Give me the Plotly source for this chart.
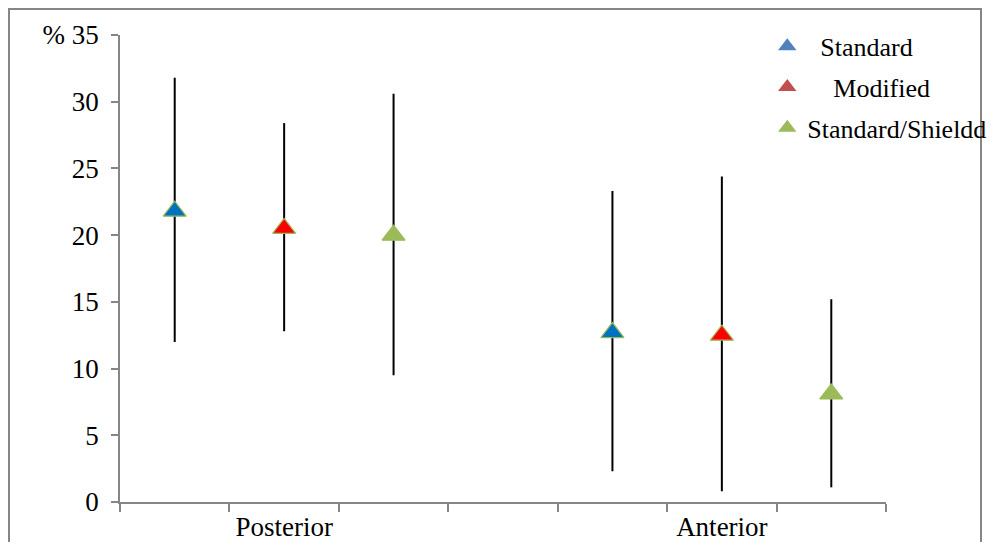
import plotly.graph_objects as go

groups = ["Posterior", "Anterior"]
series = ["Standard", "Modified", "Standard/Shieldd"]
legend_names = ["  Standard", "    Modified", "Standard/Shieldd"]
means = {
    "Standard": [21.8, 12.7],
    "Modified": [20.5, 12.5],
    "Standard/Shieldd": [20.0, 8.1],
}
upper = {
    "Standard": [31.8, 23.3],
    "Modified": [28.4, 24.4],
    "Standard/Shieldd": [30.6, 15.2],
}
lower = {
    "Standard": [12.0, 2.3],
    "Modified": [12.8, 0.8],
    "Standard/Shieldd": [9.5, 1.1],
}
yticks = [0, 5, 10, 15, 20, 25, 30, 35]
yticktext = ["0", "5", "10", "15", "20", "25", "30", "% 35"]

marker_colors = ["#0070C0", "#FF0000", "#9BBB59"]
legend_colors = ["#4F81BD", "#C0504D", "#9BBB59"]

fig = go.Figure()
for si, s in enumerate(series):
    xs = [gi * 4 + si + 1 for gi in range(len(groups))]
    ys = means[s]
    fig.add_trace(go.Scatter(
        x=xs, y=ys, mode="markers", showlegend=False,
        marker=dict(symbol="triangle-up", size=20, color=marker_colors[si],
                    line=dict(color="#9BBB59", width=1.2)),
        error_y=dict(type="data", symmetric=False,
                     array=[u - m for u, m in zip(upper[s], ys)],
                     arrayminus=[m - l for m, l in zip(ys, lower[s])],
                     color="black", thickness=2, width=0),
    ))
for si, s in enumerate(series):
    fig.add_trace(go.Scatter(
        x=[None], y=[None], mode="markers", name=legend_names[si],
        legendgroup=s,
        marker=dict(symbol="triangle-up", size=20, color=legend_colors[si]),
    ))

group_centers = [gi * 4 + 2 for gi in range(len(groups))]

fig.update_layout(
    width=991, height=534,
    margin=dict(l=112, r=113, t=27, b=40, autoexpand=False),
    paper_bgcolor="white", plot_bgcolor="white",
    font=dict(family="Liberation Serif", size=27, color="black"),
    xaxis=dict(range=[0.5, 7.5], tickvals=group_centers, ticktext=groups,
               ticks="", showgrid=False, zeroline=False, showline=True,
               linecolor="#868686", linewidth=1.5, ticklabelstandoff=0,
               minor=dict(tick0=0.5, dtick=1, ticks="outside", ticklen=8,
                          tickcolor="#868686", tickwidth=1.5, showgrid=False),
               tickfont=dict(size=27)),
    yaxis=dict(range=[0, 35], tickvals=yticks, ticktext=yticktext,
               ticks="outside", ticklen=7, tickcolor="#868686", tickwidth=1.5,
               showgrid=False, zeroline=False, showline=True, ticklabelstandoff=7,
               linecolor="#868686", linewidth=1.5, tickfont=dict(size=27)),
    legend=dict(x=0.845, y=1.026, xanchor="left", yanchor="top",
                bgcolor="rgba(0,0,0,0)", tracegroupgap=4,
                font=dict(size=26)),
    shapes=[dict(type="rect", xref="paper", yref="paper",
                 x0=(9 - 120) / 766, x1=(981 - 120) / 766,
                 y0=(502 - 570) / 467, y1=(502 - 9) / 467,
                 line=dict(color="#868686", width=2), fillcolor="rgba(0,0,0,0)",
                 layer="below")],
)

fig.write_html("out.html")
